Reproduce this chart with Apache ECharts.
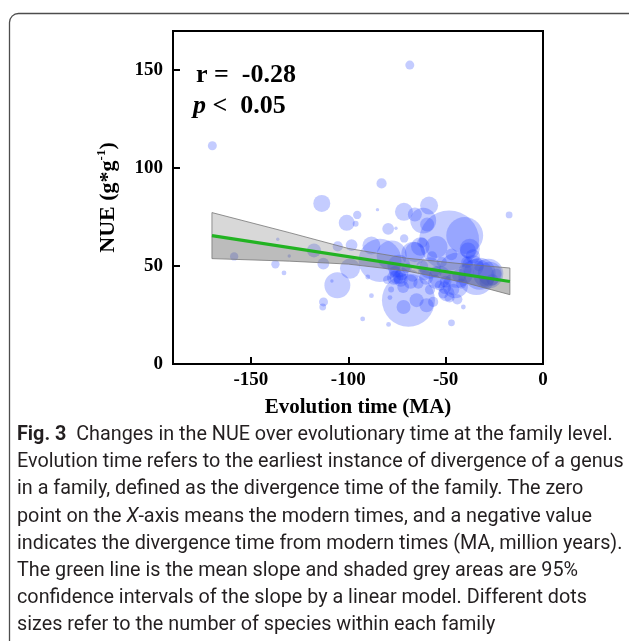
<!DOCTYPE html>
<html>
<head>
<meta charset="utf-8">
<script src="https://cdn.jsdelivr.net/npm/echarts@6/dist/echarts.min.js"></script>
<style>
  html, body { margin: 0; padding: 0; background: #fff; }
  #chart { width: 629px; height: 641px; }
</style>
</head>
<body>
<div id="chart"></div>
<script>
// Family-level divergence time (MA, negative = before present)
const familyTime = [
  -68.4, -169.8, -82.9, -113.6, -17.4, -85.0, -95.4, -100.8, -96.2, -79.5,
  -75.5, -71.4, -65.8, -58.5, -61.5, -59.5, -48.2, -40.2, -71.3, -136.2,
  -158.6, -130.3, -137.4, -133.0, -117.6, -112.8, -105.4, -98.3, -99.1, -105.6,
  -108.4, -112.7, -113.1, -92.6, -88.1, -79.3, -47.0, -40.9, -69.1, -83.7,
  -88.1, -77.7, -66.6, -54.7, -37.6, -28.1, -34.2, -44.4, -53.0, -75.2,
  -71.8, -64.9, -59.8, -56.4, -71.6, -51.3, -38.5, -65.8, -73.5, -49.5,
  -32.5, -27.3, -90.0, -78.6, -76.0, -73.0, -70.0, -67.0, -64.0, -62.0,
  -60.0, -58.0, -55.0, -53.0, -50.0, -48.0, -46.0, -44.0, -42.0, -39.0,
  -36.0, -33.0, -30.0, -26.0, -24.0, -62.0, -57.0, -80.0, -78.0, -52.0,
  -47.0, -74.0, -58.0, -45.0, -63.0, -36.0, -76.5, -72.5, -68.0, -61.0,
  -55.5, -50.5, -43.0, -40.0
];
// Nitrogen use efficiency per family (g*g-1)
const familyNUE = [
  152.6, 111.4, 92.2, 82.0, 76.1, 78.8, 76.1, 72.1, 71.6, 69.0,
  69.3, 77.7, 76.3, 80.9, 73.2, 71.2, 63.1, 65.6, 64.1, 63.7,
  54.9, 55.1, 50.9, 46.5, 58.0, 51.2, 60.0, 60.7, 48.7, 40.2,
  42.4, 31.7, 29.1, 23.0, 34.9, 20.2, 21.0, 29.1, 32.6, 52.9,
  60.5, 55.4, 56.3, 59.7, 58.8, 46.1, 44.4, 47.8, 44.4, 44.4,
  39.3, 32.6, 30.0, 31.7, 29.1, 36.0, 58.0, 57.1, 44.4, 36.0,
  46.1, 46.1, 44.4, 33.9, 47.0, 43.0, 49.0, 45.0, 41.0, 50.0,
  44.0, 38.0, 47.0, 40.0, 42.0, 34.0, 38.0, 33.0, 41.0, 52.0,
  55.0, 50.0, 42.0, 43.0, 46.0, 62.0, 55.0, 43.0, 38.0, 52.0,
  56.0, 50.0, 49.0, 40.0, 60.0, 50.0, 44.0, 46.0, 42.0, 46.0,
  42.0, 39.0, 45.0, 48.0
];
// Number of species within each family
const speciesCount = [
  7, 7, 9, 25, 4, 1, 6, 22, 3, 12,
  1, 28, 17, 28, 58, 17, 311, 118, 6, 1,
  6, 1, 6, 2, 17, 12, 9, 12, 35, 58,
  1, 7, 4, 2, 2, 2, 4, 2, 243, 160,
  28, 78, 50, 42, 35, 78, 112, 106, 42, 17,
  12, 17, 17, 9, 17, 9, 22, 35, 17, 22,
  89, 50, 2, 2, 12, 17, 9, 12, 9, 12,
  17, 9, 12, 9, 12, 9, 12, 9, 9, 12,
  17, 9, 9, 12, 9, 9, 9, 6, 3, 9,
  12, 45, 40, 55, 30, 40, 17, 14, 17, 14,
  17, 14, 17, 14
];

// Linear model: fitted line and 95% confidence band
const fitTime = [-170, -17];
const fitNUE = [65.5, 42.1];
const bandTime = [-170, -130, -100, -70, -40, -17];
const bandUpper = [77.3, 67.0, 59.0, 54.0, 51.0, 49.0];
const bandFit = [65.5, 59.4, 54.8, 50.2, 45.6, 42.1];
const bandLower = [53.8, 52.5, 51.0, 47.5, 41.5, 35.4];

// Axis ticks
const xTicks = [-150, -100, -50, 0];
const yTicks = [0, 50, 100, 150];

// Figure legend text
const captionLines = [
  '{b|Fig. 3}  Changes in the NUE over evolutionary time at the family level.',
  'Evolution time refers to the earliest instance of divergence of a genus',
  'in a family, defined as the divergence time of the family. The zero',
  'point on the {i|X}-axis means the modern times, and a negative value',
  'indicates the divergence time from modern times (MA, million years).',
  'The green line is the mean slope and shaded grey areas are 95%',
  'confidence intervals of the slope by a linear model. Different dots',
  'sizes refer to the number of species within each family'
];

const serif = '"Liberation Serif", "DejaVu Serif", serif';
const sans = 'Roboto, "Open Sans", sans-serif';
const captionSize = 19.8;

const bubbles = familyTime.map((t, i) => [t, familyNUE[i], speciesCount[i]]);

function bandPolygon(top, bottom) {
  const pts = [];
  bandTime.forEach((t, i) => pts.push([t, top[i]]));
  for (let i = bandTime.length - 1; i >= 0; i--) pts.push([bandTime[i], bottom[i]]);
  return pts;
}

function polygonSeries(pts, fill, z) {
  return {
    type: 'custom',
    z: z,
    silent: true,
    data: [0],
    renderItem: function (params, api) {
      return {
        type: 'polygon',
        shape: { points: pts.map(p => api.coord(p)) },
        style: { fill: fill, stroke: 'rgba(120,120,120,0.8)', lineWidth: 1 }
      };
    }
  };
}

const chart = echarts.init(document.getElementById('chart'), null, { renderer: 'canvas' });

const captionGraphics = captionLines.map((line, i) => ({
  type: 'text',
  left: 17,
  top: 425 + i * 27.2,
  style: {
    text: line,
    font: captionSize + 'px ' + sans,
    fill: '#231f20',
    rich: {
      b: { fontWeight: 'bold', fontSize: captionSize, fontFamily: sans, fill: '#231f20' },
      i: { fontStyle: 'italic', fontSize: captionSize, fontFamily: sans, fill: '#231f20' }
    }
  }
}));

chart.setOption({
  animation: false,
  backgroundColor: '#fff',
  grid: {
    left: 173, top: 31, width: 370, height: 333,
    show: true, borderColor: '#000', borderWidth: 2, backgroundColor: 'transparent'
  },
  xAxis: {
    type: 'value', min: -190, max: 0,
    name: 'Evolution time (MA)', nameLocation: 'middle', nameGap: 33,
    nameTextStyle: { fontFamily: serif, fontWeight: 'bold', fontSize: 21, color: '#000' },
    axisLine: { show: true, onZero: false, lineStyle: { color: '#000', width: 2 } },
    axisTick: { show: true, inside: true, length: 7, lineStyle: { color: '#000', width: 2 }, customValues: xTicks },
    axisLabel: { customValues: xTicks, fontFamily: serif, fontWeight: 'bold', fontSize: 19, color: '#000', margin: 7 },
    splitLine: { show: false }
  },
  yAxis: {
    type: 'value', min: 0, max: 170,
    name: '{n|NUE (g*g}{s|-1}{n|)}', nameLocation: 'middle', nameRotate: 90, nameGap: 52,
    nameTextStyle: {
      rich: {
        n: { fontFamily: serif, fontWeight: 'bold', fontSize: 22, color: '#000', lineHeight: 26 },
        s: { fontFamily: serif, fontWeight: 'bold', fontSize: 13, color: '#000', verticalAlign: 'top', lineHeight: 26 }
      }
    },
    axisLine: { show: true, onZero: false, lineStyle: { color: '#000', width: 2 } },
    axisTick: { show: true, inside: true, length: 7, lineStyle: { color: '#000', width: 2 }, customValues: yTicks },
    axisLabel: { customValues: yTicks, fontFamily: serif, fontWeight: 'bold', fontSize: 19, color: '#000', margin: 10 },
    splitLine: { show: false }
  },
  graphic: [
    {
      type: 'rect', silent: true,
      shape: { x: 9.5, y: 13.5, width: 640, height: 660, r: 9 },
      style: { fill: 'none', stroke: '#4d4d4d', lineWidth: 1.3 }
    },
    {
      type: 'text', left: 196, top: 62,
      style: { text: 'r =  -0.28', font: 'bold 26px ' + serif, fill: '#000' }
    },
    {
      type: 'text', left: 193, top: 93,
      style: {
        text: '{p|p} <  0.05', font: 'bold 26px ' + serif, fill: '#000',
        rich: { p: { fontStyle: 'italic', fontWeight: 'bold', fontSize: 26, fontFamily: serif, fill: '#000' } }
      }
    }
  ].concat(captionGraphics),
  series: [
    {
      type: 'scatter',
      z: 2,
      data: bubbles,
      symbolSize: function (v) { return 3.4 * Math.sqrt(v[2]); },
      itemStyle: { color: 'rgba(30,60,255,0.33)', borderWidth: 0 },
      silent: true
    },
    polygonSeries(bandPolygon(bandUpper, bandFit), 'rgba(125,125,125,0.3)', 3),
    polygonSeries(bandPolygon(bandFit, bandLower), 'rgba(95,95,95,0.42)', 3),
    {
      type: 'line',
      z: 4,
      data: fitTime.map((t, i) => [t, fitNUE[i]]),
      symbol: 'none',
      lineStyle: { color: '#22b322', width: 3.2 },
      silent: true
    }
  ]
});
</script>
</body>
</html>
